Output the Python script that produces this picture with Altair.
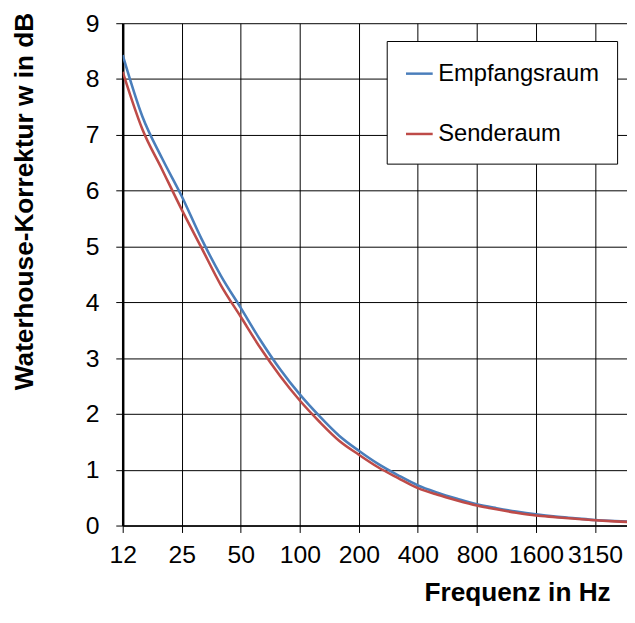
import json
import altair as alt
import pandas as pd

# third-octave bands (x categories)
band_labels = ["12", "16", "20", "25", "31.5", "40", "50", "63", "80", "100",
               "125", "160", "200", "250", "315", "400", "500", "630", "800",
               "1000", "1250", "1600", "2000", "2500", "3150", "4000", "5000"]

# Waterhouse correction in dB
empfangsraum = [8.43, 7.33, 6.58, 5.90, 5.14, 4.47, 3.90, 3.32, 2.80, 2.35,
                1.96, 1.61, 1.34, 1.10, 0.90, 0.72, 0.59, 0.48, 0.38, 0.31,
                0.25, 0.20, 0.16, 0.13, 0.10, 0.08, 0.065]
senderaum = [8.13, 7.10, 6.38, 5.66, 4.98, 4.30, 3.74, 3.18, 2.68, 2.24,
             1.86, 1.52, 1.27, 1.04, 0.85, 0.67, 0.55, 0.45, 0.36, 0.29,
             0.23, 0.18, 0.15, 0.12, 0.095, 0.075, 0.06]

series_names = ["Empfangsraum", "Senderaum"]
series_colors = ["#4A7EBB", "#BE4B48"]

tick_labels = band_labels[0:25:3]

rows = []
for i, lab in enumerate(band_labels):
    rows.append({"idx": i, "band": lab, "serie": series_names[0], "w": empfangsraum[i]})
    rows.append({"idx": i, "band": lab, "serie": series_names[1], "w": senderaum[i]})
df = pd.DataFrame(rows)

FONT = "Liberation Sans"
label_expr = json.dumps(tick_labels) + "[round(datum.value/3)]"

chart = alt.Chart(df).mark_line(
    clip=True, strokeWidth=2.6, interpolate="monotone", strokeJoin="round"
).encode(
    x=alt.X("idx:Q",
            scale=alt.Scale(domain=[0, 25.63], nice=False, zero=False),
            axis=alt.Axis(values=list(range(0, 25, 3)), labelExpr=label_expr,
                          title="Frequenz in Hz", titleX=493, titleY=76,
                          titleAlign="right", titleBaseline="alphabetic",
                          titleFont=FONT, titleFontSize=26.5, titleFontWeight="bold",
                          titleColor="black",
                          labelFont=FONT, labelFontSize=25, labelColor="black",
                          labelPadding=10, labelOverlap=False, labelFlush=False,
                          tickSize=7, tickColor="black", tickWidth=1,
                          domainColor="black", domainWidth=1.5,
                          grid=True, gridColor="black", gridWidth=1)),
    y=alt.Y("w:Q",
            scale=alt.Scale(domain=[0, 9], nice=False),
            axis=alt.Axis(values=list(range(0, 10)),
                          title="Waterhouse-Korrektur w in dB",
                          titleX=-91, titleY=-11, titleAngle=270,
                          titleAlign="right", titleBaseline="alphabetic",
                          titleFont=FONT, titleFontSize=26.5, titleFontWeight="bold",
                          titleColor="black",
                          labelFont=FONT, labelFontSize=25, labelColor="black",
                          labelPadding=17,
                          tickSize=7, tickColor="black", tickWidth=1,
                          domainColor="black", domainWidth=2.5,
                          grid=True, gridColor="black", gridWidth=1)),
    color=alt.Color("serie:N",
                    scale=alt.Scale(domain=series_names, range=series_colors),
                    sort=series_names,
                    legend=alt.Legend(orient="none", legendX=267, legendY=18,
                                      title=None, padding=18,
                                      strokeColor="black", fillColor="white",
                                      symbolType="stroke", symbolSize=729,
                                      symbolStrokeWidth=2.5,
                                      labelFont=FONT, labelFontSize=24,
                                      labelColor="black", labelOffset=4,
                                      rowPadding=34, labelLimit=400)),
).properties(
    width=510, height=508,
    autosize=alt.AutoSizeParams(type="none"),
    padding={"left": 116, "top": 12, "right": 0, "bottom": 80},
    background="white",
).configure_view(stroke=None)

chart.save("out.html", embed_options={"renderer": "svg", "actions": False})
